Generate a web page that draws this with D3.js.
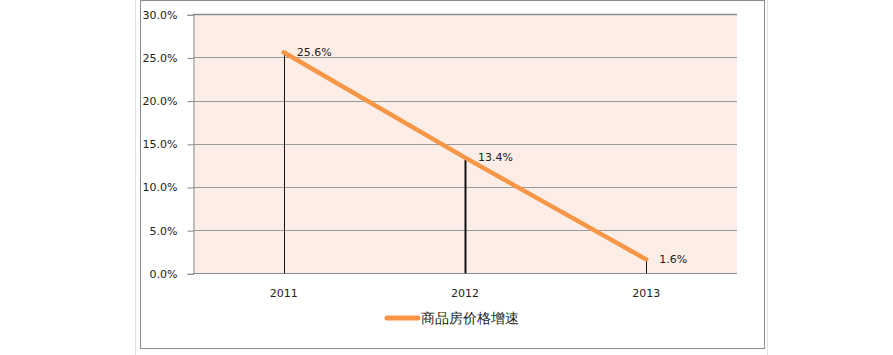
<!DOCTYPE html>
<html>
<head>
<meta charset="utf-8">
<script src="https://cdn.jsdelivr.net/npm/d3@7"></script>
<style>
  body { margin: 0; background: #fff; }
  svg text { font-family: "DejaVu Sans", Tahoma, sans-serif; }
</style>
</head>
<body>
<div id="chart"></div>
<script>
var years = ["2011", "2012", "2013"];
var growth = [25.6, 13.4, 1.6];
var yTicks = [0, 5, 10, 15, 20, 25, 30];
var seriesName = "商品房价格增速";
var dropWidths = [1, 2, 1];

var svgWidth = 893;
var svgHeight = 355;

var plot = { left: 193, right: 737, top: 14.3, bottom: 273.3 };

var svg = d3.select("#chart")
  .append("svg")
  .attr("width", svgWidth)
  .attr("height", svgHeight);

// faint outer edges and chart frame
svg.append("line").attr("x1", 135.5).attr("x2", 135.5).attr("y1", 0).attr("y2", svgHeight)
  .attr("stroke", "#e2e2e2");
svg.append("line").attr("x1", 767.5).attr("x2", 767.5).attr("y1", 0).attr("y2", svgHeight)
  .attr("stroke", "#e2e2e2");
svg.append("rect")
  .attr("x", 140.5).attr("y", 0.5)
  .attr("width", 624).attr("height", 348)
  .attr("fill", "#fff")
  .attr("stroke", "#8c8c8c");

var x = d3.scaleBand()
  .domain(years)
  .range([plot.left, plot.right]);

var y = d3.scaleLinear()
  .domain([0, 30])
  .range([plot.bottom, plot.top]);

// plot background
svg.append("rect")
  .attr("x", plot.left).attr("y", plot.top)
  .attr("width", plot.right - plot.left)
  .attr("height", plot.bottom - plot.top)
  .attr("fill", "#fcede7");

// gridlines
svg.append("g")
  .selectAll("line")
  .data(yTicks)
  .enter()
  .append("line")
  .attr("x1", plot.left)
  .attr("x2", plot.right)
  .attr("y1", d => Math.round(y(d)) + 0.5)
  .attr("y2", d => Math.round(y(d)) + 0.5)
  .attr("stroke", d => (d === 30 || d === 0) ? "#8a8a8a" : "#9a9a9a")
  .attr("stroke-width", d => d === 30 ? 1.5 : 1);

// y axis
var leftAxis = d3.axisLeft(y)
  .tickValues(yTicks)
  .tickSize(6)
  .tickPadding(10)
  .tickFormat(d => d.toFixed(1) + "%");

var yAxis = svg.append("g")
  .attr("transform", `translate(${plot.left + 0.5}, 0.5)`)
  .call(leftAxis);
yAxis.select(".domain").attr("stroke", "#8a8a8a");
yAxis.selectAll(".tick line").attr("stroke", "#8a8a8a");
yAxis.selectAll("text")
  .attr("font-size", 11)
  .attr("font-family", "DejaVu Sans, sans-serif")
  .attr("fill", "#222");

// x axis labels
var bottomAxis = d3.axisBottom(x).tickSize(0).tickPadding(16);
var xAxis = svg.append("g")
  .attr("transform", `translate(0, ${plot.bottom})`)
  .call(bottomAxis);
xAxis.select(".domain").remove();
xAxis.selectAll("text")
  .attr("font-size", 11)
  .attr("font-family", "DejaVu Sans, sans-serif")
  .attr("fill", "#222");

var cx = d => x(d) + x.bandwidth() / 2;

// drop lines
svg.append("g")
  .selectAll("line")
  .data(years)
  .enter()
  .append("line")
  .attr("x1", d => Math.round(cx(d)) + 0.5)
  .attr("x2", d => Math.round(cx(d)) + 0.5)
  .attr("y1", (d, i) => y(growth[i]))
  .attr("y2", plot.bottom)
  .attr("stroke", "#111")
  .attr("stroke-width", (d, i) => dropWidths[i]);

// series line
var line = d3.line()
  .x((d, i) => cx(years[i]))
  .y(d => y(d));

svg.append("path")
  .datum(growth)
  .attr("d", line)
  .attr("fill", "none")
  .attr("stroke", "#f79646")
  .attr("stroke-width", 4.5)
  .attr("stroke-linecap", "round");

// data labels
svg.append("g")
  .selectAll("text")
  .data(growth)
  .enter()
  .append("text")
  .attr("x", (d, i) => cx(years[i]) + 13)
  .attr("y", d => y(d))
  .attr("dy", "0.35em")
  .attr("font-size", 11)
  .attr("fill", "#222")
  .text(d => d.toFixed(1) + "%");

// legend
svg.append("line")
  .attr("x1", 387).attr("x2", 418)
  .attr("y1", 318).attr("y2", 318)
  .attr("stroke", "#f79646")
  .attr("stroke-width", 5)
  .attr("stroke-linecap", "round");

svg.append("text")
  .attr("x", 421)
  .attr("y", 318)
  .attr("dy", "0.36em")
  .attr("font-size", 14)
  .attr("font-family", "Noto Sans CJK SC, sans-serif")
  .attr("fill", "#222")
  .text(seriesName);
</script>
</body>
</html>
